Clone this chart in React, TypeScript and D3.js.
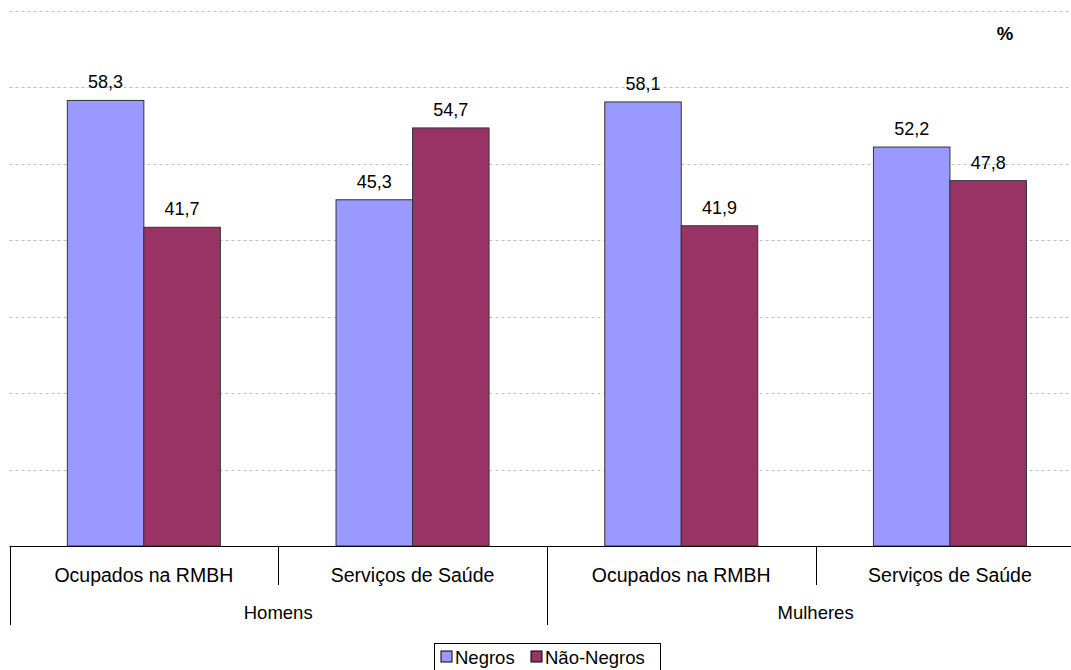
import React from "react";
import * as d3 from "d3";

const groups = ["Homens", "Mulheres"];
const categories = ["Ocupados na RMBH", "Serviços de Saúde"];
const series = ["Negros", "Não-Negros"];
const negros = [58.3, 45.3, 58.1, 52.2];
const naoNegros = [41.7, 54.7, 41.9, 47.8];
const yTicks = [0, 10, 20, 30, 40, 50, 60, 70];

const colors = ["#9999FF", "#993366"];
const font = "'Liberation Sans', Arial, sans-serif";

const width = 1071,
	height = 670;
const plotLeft = 9.5,
	step = 268.7,
	baseY = 546,
	topY = 11;

const App = () => {
	const cells = groups.flatMap((g) => categories.map((c) => `${g}|${c}`));
	const values = [negros, naoNegros];

	const x = d3
		.scaleBand<string>()
		.domain(cells)
		.range([plotLeft, plotLeft + step * cells.length])
		.padding(0);
	const xs = d3
		.scaleBand<string>()
		.domain(series)
		.range([0, x.bandwidth()])
		.paddingInner(0)
		.paddingOuter(0.756);
	const y = d3.scaleLinear().domain([0, 70]).range([baseY, topY]);

	const fmt = (v: number) => v.toFixed(1).replace(".", ",");

	return (
		<svg
			width={width}
			height={height}
			style={{ position: "absolute", left: 0, top: 0, background: "#fff" }}
			fontFamily={font}
		>
			{/* gridlines */}
			{yTicks
				.filter((t) => t > 0)
				.map((t) => (
					<line
						key={t}
						x1={plotLeft}
						x2={width}
						y1={Math.round(y(t)) + 0.5}
						y2={Math.round(y(t)) + 0.5}
						stroke="#c0c0c0"
						strokeDasharray="3,3"
					/>
				))}

			<text x={1005} y={40} fontSize={18.5} fontWeight="bold" textAnchor="middle">
				%
			</text>

			{/* bars */}
			{cells.map((c, i) =>
				series.map((s, si) => {
					const v = values[si][i];
					const bx = (x(c) as number) + (xs(s) as number);
					return (
						<g key={c + s}>
							<rect
								x={bx}
								y={y(v)}
								width={xs.bandwidth()}
								height={baseY - y(v)}
								fill={colors[si]}
								stroke="#333"
								strokeWidth={1}
							/>
							<text
								x={bx + xs.bandwidth() / 2}
								y={y(v) - 12}
								fontSize={18}
								textAnchor="middle"
							>
								{fmt(v)}
							</text>
						</g>
					);
				})
			)}

			{/* axis */}
			<line x1={plotLeft} x2={width} y1={baseY + 0.5} y2={baseY + 0.5} stroke="#000" />
			{cells.map((c, i) => {
				const cx = x(c) as number;
				const isGroupStart = i % categories.length === 0;
				return (
					<g key={c}>
						<line
							x1={Math.round(cx) + 0.5}
							x2={Math.round(cx) + 0.5}
							y1={baseY}
							y2={isGroupStart ? 625 : 585}
							stroke="#000"
						/>
						<text x={cx + step / 2} y={582} fontSize={19.5} textAnchor="middle">
							{c.split("|")[1]}
						</text>
					</g>
				);
			})}
			{groups.map((g, gi) => (
				<text
					key={g}
					x={plotLeft + step * categories.length * (gi + 0.5)}
					y={619}
					fontSize={18.5}
					textAnchor="middle"
				>
					{g}
				</text>
			))}

			{/* legend */}
			<g>
				<rect x={434.5} y={643.5} width={226} height={40} fill="#fff" stroke="#000" />
				{series.map((s, si) => {
					const lx = si === 0 ? 441 : 531;
					return (
						<g key={s}>
							<rect x={lx} y={651} width={11} height={11} fill={colors[si]} stroke="#000" />
							<text x={lx + 14} y={664} fontSize={18.5}>
								{s}
							</text>
						</g>
					);
				})}
			</g>
		</svg>
	);
};

export default App;
